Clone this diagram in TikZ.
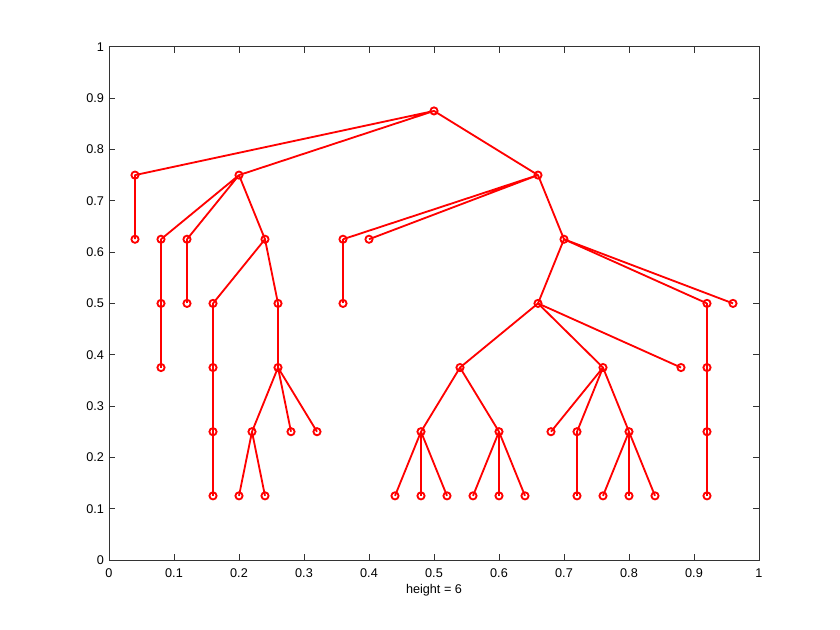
\documentclass[tikz,border=0pt]{standalone}
\usepackage{fontspec}
\setmainfont{Liberation Sans}
\begin{document}
\begin{tikzpicture}[x=16.25cm, y=12.83cm,
    vtx/.style={circle, draw=red, line width=1.3pt, minimum size=0.18cm, inner sep=0pt},
    edge/.style={red, line width=1.3pt, line join=round},
    frame/.style={black!80, line width=0.7pt},
    ticklbl/.style={font=\fontsize{9}{10.8}\selectfont, inner sep=0pt}]
    \useasboundingbox (-2.725cm,-1.75cm) rectangle (18.275cm,14cm);
    % axes box with inward ticks
    \draw[frame] (0,0) rectangle (1,1);
    \foreach \t [count=\i] in {0,0.1,0.2,0.3,0.4,0.5,0.6,0.7,0.8,0.9,1} {
        \draw[frame] (\t,0) -- ++(0,0.16cm);
        \draw[frame] (\t,1) -- ++(0,-0.16cm);
        \draw[frame] (0,\t) -- ++(0.16cm,0);
        \draw[frame] (1,\t) -- ++(-0.16cm,0);
        \node[ticklbl, anchor=north] (xl\i) at ([yshift=-0.22cm]\t,0) {\t};
        \node[ticklbl, anchor=east] (yl\i) at ([xshift=-0.12cm]0,\t) {\t};
    }
    \node[ticklbl, anchor=north] (xlabel) at ([yshift=-0.6cm]0.5,0) {height = 6};
    % tree vertices
    \node[vtx] (r) at (0.5,0.875) {};
    \node[vtx] (a) at (0.04,0.75) {};
    \node[vtx] (b) at (0.2,0.75) {};
    \node[vtx] (c) at (0.66,0.75) {};
    \node[vtx] (a1) at (0.04,0.625) {};
    \node[vtx] (b1) at (0.08,0.625) {};
    \node[vtx] (b2) at (0.12,0.625) {};
    \node[vtx] (b3) at (0.24,0.625) {};
    \node[vtx] (b11) at (0.08,0.5) {};
    \node[vtx] (b111) at (0.08,0.375) {};
    \node[vtx] (b21) at (0.12,0.5) {};
    \node[vtx] (b31) at (0.16,0.5) {};
    \node[vtx] (b32) at (0.26,0.5) {};
    \node[vtx] (b311) at (0.16,0.375) {};
    \node[vtx] (b3111) at (0.16,0.25) {};
    \node[vtx] (b31111) at (0.16,0.125) {};
    \node[vtx] (b321) at (0.26,0.375) {};
    \node[vtx] (b3211) at (0.22,0.25) {};
    \node[vtx] (b3212) at (0.28,0.25) {};
    \node[vtx] (b3213) at (0.32,0.25) {};
    \node[vtx] (b32111) at (0.2,0.125) {};
    \node[vtx] (b32112) at (0.24,0.125) {};
    \node[vtx] (c1) at (0.36,0.625) {};
    \node[vtx] (c2) at (0.4,0.625) {};
    \node[vtx] (c3) at (0.7,0.625) {};
    \node[vtx] (c11) at (0.36,0.5) {};
    \node[vtx] (c31) at (0.66,0.5) {};
    \node[vtx] (c32) at (0.92,0.5) {};
    \node[vtx] (c33) at (0.96,0.5) {};
    \node[vtx] (c311) at (0.54,0.375) {};
    \node[vtx] (c312) at (0.76,0.375) {};
    \node[vtx] (c313) at (0.88,0.375) {};
    \node[vtx] (c3111) at (0.48,0.25) {};
    \node[vtx] (c3112) at (0.6,0.25) {};
    \node[vtx] (c31111) at (0.44,0.125) {};
    \node[vtx] (c31112) at (0.48,0.125) {};
    \node[vtx] (c31113) at (0.52,0.125) {};
    \node[vtx] (c31121) at (0.56,0.125) {};
    \node[vtx] (c31122) at (0.6,0.125) {};
    \node[vtx] (c31123) at (0.64,0.125) {};
    \node[vtx] (c3121) at (0.68,0.25) {};
    \node[vtx] (c3122) at (0.72,0.25) {};
    \node[vtx] (c3123) at (0.8,0.25) {};
    \node[vtx] (c31221) at (0.72,0.125) {};
    \node[vtx] (c31231) at (0.76,0.125) {};
    \node[vtx] (c31232) at (0.8,0.125) {};
    \node[vtx] (c31233) at (0.84,0.125) {};
    \node[vtx] (c321) at (0.92,0.375) {};
    \node[vtx] (c3211) at (0.92,0.25) {};
    \node[vtx] (c32111) at (0.92,0.125) {};
    % tree edges
    \draw[edge] (a1.center) -- (a.center) -- (r.center) -- (b.center);
    \draw[edge] (r.center) -- (c.center);
    \draw[edge] (b1.center) -- (b.center) -- (b2.center);
    \draw[edge] (b.center) -- (b3.center);
    \draw[edge] (b111.center) -- (b11.center) -- (b1.center);
    \draw[edge] (b21.center) -- (b2.center);
    \draw[edge] (b31.center) -- (b3.center) -- (b32.center);
    \draw[edge] (b31111.center) -- (b3111.center) -- (b311.center) -- (b31.center);
    \draw[edge] (b32.center) -- (b321.center);
    \draw[edge] (b3211.center) -- (b321.center) -- (b3212.center);
    \draw[edge] (b321.center) -- (b3213.center);
    \draw[edge] (b32111.center) -- (b3211.center) -- (b32112.center);
    \draw[edge] (c1.center) -- (c.center) -- (c2.center);
    \draw[edge] (c.center) -- (c3.center);
    \draw[edge] (c11.center) -- (c1.center);
    \draw[edge] (c31.center) -- (c3.center) -- (c32.center);
    \draw[edge] (c3.center) -- (c33.center);
    \draw[edge] (c311.center) -- (c31.center) -- (c312.center);
    \draw[edge] (c31.center) -- (c313.center);
    \draw[edge] (c3111.center) -- (c311.center) -- (c3112.center);
    \draw[edge] (c31111.center) -- (c3111.center) -- (c31113.center);
    \draw[edge] (c3111.center) -- (c31112.center);
    \draw[edge] (c31121.center) -- (c3112.center) -- (c31123.center);
    \draw[edge] (c3112.center) -- (c31122.center);
    \draw[edge] (c3121.center) -- (c312.center) -- (c3123.center);
    \draw[edge] (c312.center) -- (c3122.center) -- (c31221.center);
    \draw[edge] (c31231.center) -- (c3123.center) -- (c31233.center);
    \draw[edge] (c3123.center) -- (c31232.center);
    \draw[edge] (c32.center) -- (c321.center) -- (c3211.center) -- (c32111.center);
\end{tikzpicture}
\end{document}
